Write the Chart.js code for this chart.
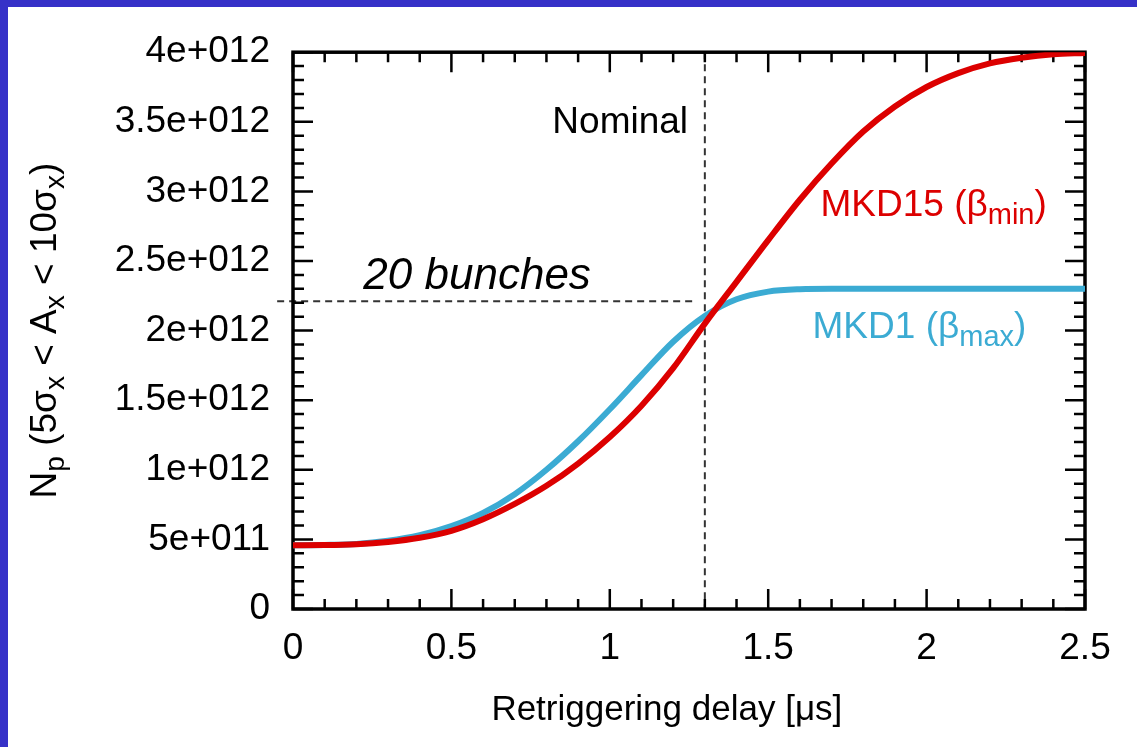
<!DOCTYPE html>
<html><head><meta charset="utf-8">
<script src="https://cdn.jsdelivr.net/npm/chart.js@4.4.1/dist/chart.umd.min.js"></script>
<style>
html,body{margin:0;padding:0;background:#3631C8;width:1137px;height:747px;overflow:hidden}
#wrap{position:absolute;left:8px;top:7px;width:1129px;height:740px;background:#fff}
canvas{display:block}
</style></head><body>
<div id="wrap"><canvas id="c" width="1129" height="740"></canvas></div>
<script>
// ---- data ----
const delays = [0,0.1,0.2,0.3,0.4,0.5,0.6,0.7,0.8,0.9,1.0,1.1,1.2,1.3,1.4,1.5,1.6,1.7,1.8,1.9,2.0,2.1,2.2,2.3,2.4,2.5];
const mkd15 = [4.58e11,4.59e11,4.65e11,4.82e11,5.12e11,5.62e11,6.45e11,7.55e11,8.85e11,1.045e12,1.235e12,1.46e12,1.73e12,2.05e12,2.35e12,2.65e12,2.94e12,3.20e12,3.43e12,3.61e12,3.75e12,3.85e12,3.92e12,3.96e12,3.985e12,3.995e12];
const mkd1  = [4.58e11,4.60e11,4.67e11,4.90e11,5.30e11,5.95e11,6.90e11,8.25e11,1.0e12,1.205e12,1.435e12,1.68e12,1.92e12,2.105e12,2.225e12,2.28e12,2.297e12,2.30e12,2.30e12,2.30e12,2.30e12,2.30e12,2.30e12,2.30e12,2.30e12,2.30e12];
const xTickLabels = ['0','0.5','1','1.5','2','2.5'];
const yTickLabels = ['0','5e+011','1e+012','1.5e+012','2e+012','2.5e+012','3e+012','3.5e+012','4e+012'];
const nominalDelay = 1.3;
const bunchLevel = 2.21e12;

const FONT = '"Liberation Sans", Arial, Helvetica, sans-serif';
const RED = '#DC0000';
const BLUE = '#3BABD3';

function drawRich(ctx, parts, x, y, color) {
  let cx = x;
  ctx.fillStyle = color;
  ctx.textBaseline = 'alphabetic';
  ctx.textAlign = 'left';
  for (const p of parts) {
    ctx.font = (p[3] ? 'italic ' : '') + p[1] + 'px ' + FONT;
    ctx.fillText(p[0], cx, y + p[2]);
    cx += ctx.measureText(p[0]).width;
  }
  return cx - x;
}
function richWidth(ctx, parts) {
  let w = 0;
  for (const p of parts) { ctx.font = (p[3] ? 'italic ' : '') + p[1] + 'px ' + FONT; w += ctx.measureText(p[0]).width; }
  return w;
}

const framePlugin = {
  id: 'frame',
  beforeDatasetsDraw(chart) {
    const ctx = chart.ctx;
    const {left, right, top, bottom} = chart.chartArea;
    const xs = chart.scales.x, ys = chart.scales.y;
    ctx.save();
    ctx.strokeStyle = '#333';
    ctx.lineWidth = 2;
    ctx.setLineDash([7, 5]);
    const nx = xs.getPixelForValue(nominalDelay);
    ctx.beginPath(); ctx.moveTo(nx, top); ctx.lineTo(nx, bottom); ctx.stroke();
    const by = ys.getPixelForValue(bunchLevel);
    ctx.beginPath(); ctx.moveTo(xs.getPixelForValue(-0.05), by); ctx.lineTo(xs.getPixelForValue(1.275), by); ctx.stroke();
    ctx.setLineDash([]);
    ctx.strokeStyle = '#000';
    ctx.lineWidth = 2.5;
    for (let i = 0; i <= 25; i++) {
      const px = xs.getPixelForValue(i * 0.1);
      const len = (i % 5 === 0) ? 20 : 10;
      ctx.beginPath();
      ctx.moveTo(px, bottom); ctx.lineTo(px, bottom - len);
      ctx.moveTo(px, top); ctx.lineTo(px, top + len);
      ctx.stroke();
    }
    for (let i = 0; i <= 40; i++) {
      const py = ys.getPixelForValue(i * 1e11);
      const len = (i % 5 === 0) ? 20 : 11;
      ctx.beginPath();
      ctx.moveTo(left, py); ctx.lineTo(left + len, py);
      ctx.moveTo(right, py); ctx.lineTo(right - len, py);
      ctx.stroke();
    }
    ctx.lineWidth = 3.5;
    ctx.strokeRect(left, top, right - left, bottom - top);
    ctx.restore();
  },
  afterDatasetsDraw(chart) {
    const ctx = chart.ctx;
    const xs = chart.scales.x, ys = chart.scales.y;
    const {top, bottom} = chart.chartArea;
    ctx.save();
    ctx.font = '37px ' + FONT;
    ctx.fillStyle = '#000';
    ctx.textAlign = 'right';
    ctx.textBaseline = 'alphabetic';
    ctx.fillText('Nominal', xs.getPixelForValue(1.247), ys.getPixelForValue(3.42e12));
    ctx.font = 'italic 44px ' + FONT;
    ctx.textAlign = 'left';
    ctx.fillText('20 bunches', xs.getPixelForValue(0.222), ys.getPixelForValue(2.30e12));
    drawRich(ctx, [['MKD15 (\u03B2', 37, 0], ['min', 29, 8], [')', 37, 0]], xs.getPixelForValue(1.665), ys.getPixelForValue(2.82e12), RED);
    drawRich(ctx, [['MKD1 (\u03B2', 37, 0], ['max', 29, 8], [')', 37, 0]], xs.getPixelForValue(1.64), ys.getPixelForValue(1.946e12), BLUE);
    ctx.font = '35px ' + FONT;
    ctx.fillStyle = '#000';
    ctx.textAlign = 'center';
    ctx.fillText('Retriggering delay [\u03BCs]', xs.getPixelForValue(1.18), 713);
    const parts = [['N', 37, 0], ['p', 28, 8], [' (5\u03C3', 37, 0], ['x', 28, 8], [' < A', 37, 0], ['x', 28, 8], [' < 10\u03C3', 37, 0], ['x', 28, 8], [')', 37, 0]];
    const w = richWidth(ctx, parts);
    ctx.translate(48, (top + bottom) / 2);
    ctx.rotate(-Math.PI / 2);
    drawRich(ctx, parts, -w / 2, 0, '#000');
    ctx.restore();
  }
};

new Chart(document.getElementById('c'), {
  type: 'line',
  data: {
    datasets: [
      { label: 'MKD15', data: delays.map((d, i) => ({x: d, y: mkd15[i]})), borderColor: RED, borderWidth: 6, pointRadius: 0, cubicInterpolationMode: 'monotone', fill: false },
      { label: 'MKD1', data: delays.map((d, i) => ({x: d, y: mkd1[i]})), borderColor: BLUE, borderWidth: 6, pointRadius: 0, cubicInterpolationMode: 'monotone', fill: false }
    ]
  },
  options: {
    responsive: false,
    animation: false,
    layout: { padding: { top: 43, right: 52, left: 0, bottom: 0 } },
    plugins: { legend: { display: false }, tooltip: { enabled: false } },
    scales: {
      x: {
        type: 'linear', min: 0, max: 2.5,
        grid: { display: false, drawTicks: false, tickLength: 0 },
        border: { display: false },
        ticks: { stepSize: 0.5, padding: 18, color: '#000', font: { family: FONT, size: 37 }, maxRotation: 0,
          callback: (v) => xTickLabels[Math.round(v / 0.5)] },
        afterFit: (s) => { s.height = 138; }
      },
      y: {
        min: 0, max: 4e12,
        grid: { display: false, drawTicks: false, tickLength: 0 },
        border: { display: false },
        ticks: { stepSize: 5e11, padding: 23, color: '#000', font: { family: FONT, size: 37 },
          callback: (v) => yTickLabels[Math.round(v / 5e11)] },
        afterFit: (s) => { s.width = 285; }
      }
    }
  },
  plugins: [framePlugin]
});
</script>
</body></html>
